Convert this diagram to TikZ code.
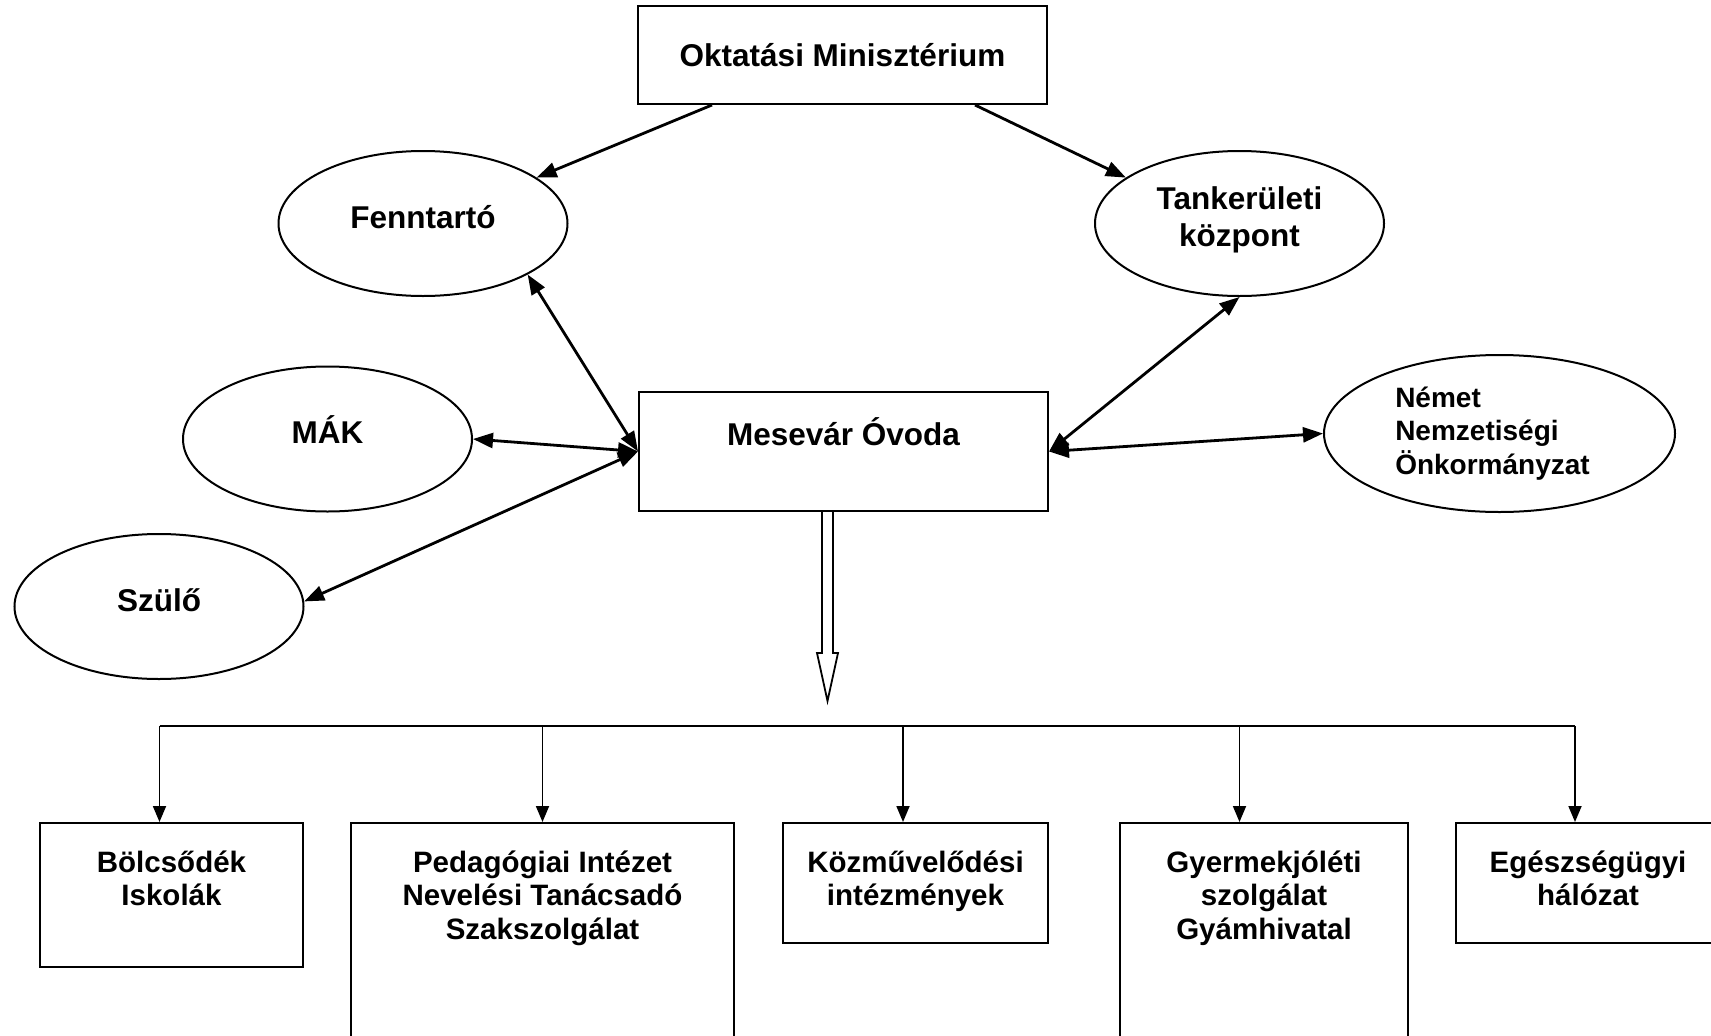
\documentclass[tikz,border=0pt]{standalone}
\usepackage{fontspec}
\setmainfont{Liberation Sans}
\usetikzlibrary{arrows.meta,shapes.geometric,calc}
\newcommand\mybxt[3]{\parbox[c][#1][t]{#2}{\centering\rule{0pt}{49pt}#3}}
\begin{document}
\begin{tikzpicture}[x=1pt,y=-1pt,
  rbox/.style={draw,line width=2pt,inner sep=0pt,font=\fontsize{31.5}{37}\selectfont\bfseries},
  ell/.style={draw,ellipse,line width=2pt,inner sep=0pt,minimum width=289pt,minimum height=145pt,font=\fontsize{31.5}{37}\selectfont\bfseries,align=center},
  conn/.style={line width=2.8pt,-{Triangle[length=20pt,width=15pt]}},
  dconn/.style={line width=2.8pt,{Triangle[length=20pt,width=15pt]}-{Triangle[length=20pt,width=15pt]}},
  bbox/.style={draw,line width=2pt,inner sep=0pt,font=\fontsize{29.5}{33.5}\selectfont\bfseries},
  drop/.style={line width=1.8pt,-{Triangle[length=16pt,width=13pt]}},
  hollow/.style={draw,line width=1.8pt,fill=white,line join=miter}
]
\useasboundingbox (0,0) rectangle (1711,1036);
\clip (0,0) rectangle (1711,1036);

% top boxes
\node[rbox,minimum width=409pt,minimum height=98pt,text height=23pt,text depth=0pt] (okt) at (842.5,55) {Oktatási Minisztérium};
\node[rbox,minimum width=409pt,minimum height=119pt,text height=22pt,text depth=35pt] (mese) at (843.5,451.5) {Mesevár Óvoda};

% ellipses
\node[ell,text height=22pt,text depth=13pt] (fenn) at (423,223.5) {Fenntartó};
\node[ell] (tank) at (1239.5,223.5) {Tankerületi\\központ\rule[-14.6pt]{0pt}{14.6pt}};
\node[ell,text height=22pt,text depth=14pt] (mak) at (327.5,439) {MÁK};
\node[ell,text height=22pt,text depth=12pt] (szulo) at (159,606.5) {Szülő};
\node[ell,minimum width=351pt,minimum height=157pt,align=left,font=\fontsize{28}{33.5}\selectfont\bfseries] (nemet) at (1499.5,433.5) {Német\\Nemzetiségi\\Önkormányzat\hspace*{14pt}};

% connectors
\draw[conn] ([xshift=-130.5pt]okt.south) -- (fenn.22);
\draw[conn] ([xshift=132.5pt]okt.south) -- (tank.158);
\draw[dconn] (mese.west) -- (fenn.-26);
\draw[dconn] (mese.west) -- (mak.east);
\draw[dconn] (mese.west) -- (szulo.2);
\draw[dconn] (mese.east) -- (tank.south);
\draw[dconn] (mese.east) -- (nemet.west);

% hollow arrow
\coordinate (ha) at ([xshift=-16pt]mese.south);
\draw[hollow] ([xshift=-5.5pt]ha) -- ++(0,141) -- ++(-5,0) -- ++(10.5,48) -- ++(10.5,-48) -- ++(-5,0) -- ++(0,-141);

% bottom boxes
\node[bbox] (b1) at (171.5,895) {\mybxt{144pt}{263pt}{Bölcsődék\\Iskolák}};
\node[bbox] (b2) at (542.5,973) {\mybxt{300pt}{383pt}{Pedagógiai Intézet\\Nevelési Tanácsadó\\Szakszolgálat}};
\node[bbox] (b3) at (915.5,883) {\mybxt{120pt}{265pt}{Közművelődési\\intézmények}};
\node[bbox] (b4) at (1264,973) {\mybxt{300pt}{288pt}{Gyermekjóléti\\szolgálat\\Gyámhivatal}};
\node[bbox] (b5) at (1588,883) {\mybxt{120pt}{264pt}{Egészségügyi\\hálózat}};

% bus
\coordinate (bus1) at (159.5,726);
\coordinate (bus2) at (542.5,726);
\coordinate (bus3) at (903,726);
\coordinate (bus4) at (1239.5,726);
\coordinate (bus5) at (1575,726);
\draw[line width=2.5pt] (bus1) -- (bus5);
\draw[drop] (bus1) -- (bus1 |- b1.north);
\draw[drop] (bus2) -- (bus2 |- b2.north);
\draw[drop] (bus3) -- (bus3 |- b3.north);
\draw[drop] (bus4) -- (bus4 |- b4.north);
\draw[drop] (bus5) -- (bus5 |- b5.north);
\end{tikzpicture}
\end{document}
